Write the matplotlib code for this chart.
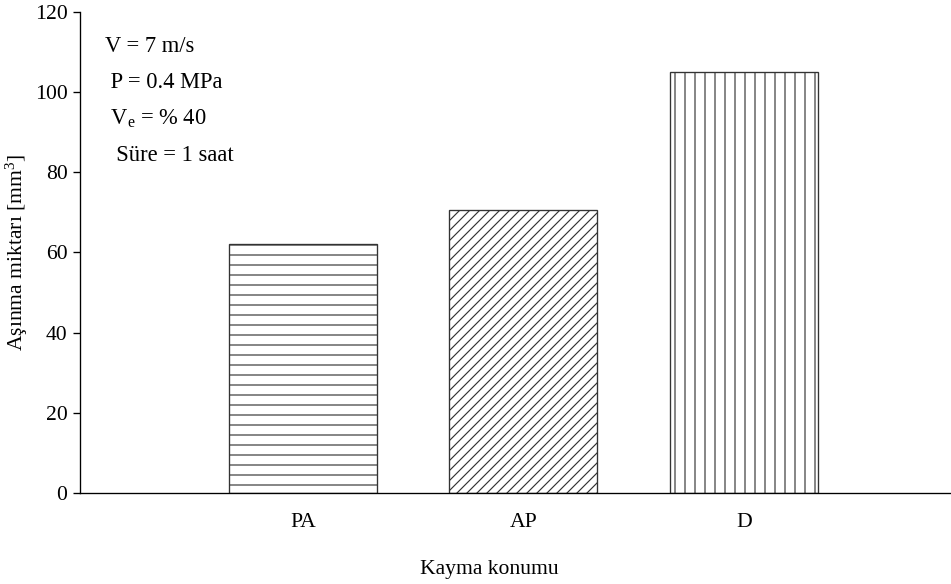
import matplotlib
matplotlib.use("Agg")
import matplotlib.pyplot as plt

plt.rcParams['font.family'] = ['Liberation Serif', 'DejaVu Serif']
plt.rcParams['mathtext.fontset'] = 'custom'
plt.rcParams['mathtext.rm'] = 'Liberation Serif'
plt.rcParams['mathtext.it'] = 'Liberation Serif:italic'
plt.rcParams['hatch.linewidth'] = 0.7
plt.rcParams['hatch.color'] = '#222222'

# asinma miktari, kayma konumuna gore
konum = ['PA', 'AP', 'D']
asinma = [62, 70.6, 105]
desen = ['--', '////', '||']

kosullar = ['V = 7 m/s', ' P = 0.4 MPa', r' V$_\mathrm{e}$ = % 40', '  Süre = 1 saat']
kosul_y = [111.3, 102.5, 93.3, 84.3]

fig = plt.figure(figsize=(951 / 120, 584 / 120), dpi=120)
ax = fig.add_axes([0.0841, 0.1558, 0.9159, 0.8237])

xpos = [1, 2, 3]
for x, h, d in zip(xpos, asinma, desen):
    ax.bar(x, h, width=0.67, color='white', edgecolor='#333333',
           linewidth=0.8, hatch=d)

ax.set_xlim(-0.011, 3.94)
ax.set_ylim(0, 120)
ax.set_yticks(range(0, 121, 20))
ax.set_xticks(xpos)
ax.set_xticklabels(konum, fontsize=13)
ax.tick_params(axis='x', length=0, pad=12)
ax.tick_params(axis='y', labelsize=13, length=4, width=0.8, direction='out')

for s in ['top', 'right']:
    ax.spines[s].set_visible(False)
for s in ['left', 'bottom']:
    ax.spines[s].set_linewidth(0.8)

for t, y in zip(kosullar, kosul_y):
    ax.text(0.029, y, t, transform=ax.get_yaxis_transform(),
            fontsize=13.5, va='center', ha='left')

ax.set_xlabel('Kayma konumu', fontsize=13, va='center')
ax.xaxis.set_label_coords(0.47, -0.16)
ax.set_ylabel('Aşınma miktarı [mm$^3$]', fontsize=13, va='center')
ax.yaxis.set_label_coords(-0.072, 0.5)

fig.savefig('out.png', dpi=120)
